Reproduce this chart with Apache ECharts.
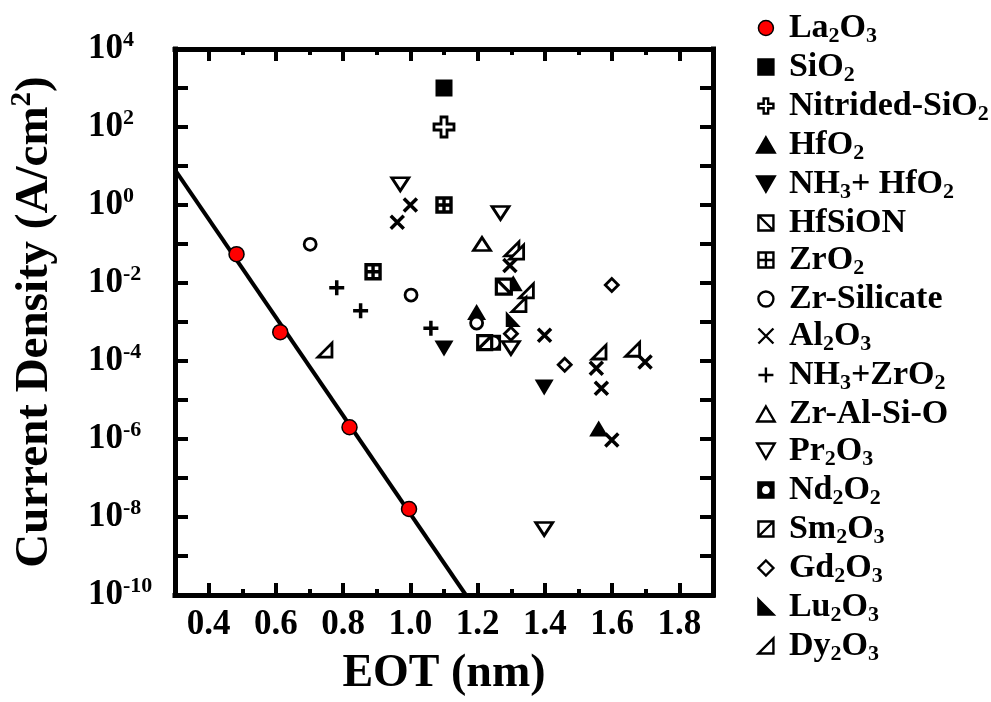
<!DOCTYPE html>
<html><head><meta charset="utf-8">
<script src="https://cdn.jsdelivr.net/npm/echarts@6/dist/echarts.min.js"></script>
<style>html,body{margin:0;padding:0;background:#fff}#c{width:991px;height:702px}</style>
</head><body><div id="c"></div>
<script>
// ---- tick labels ----
const X_TICK_LABELS = [0.4, 0.6, 0.8, 1.0, 1.2, 1.4, 1.6, 1.8];
const Y_TICK_EXPONENTS = [-10, -8, -6, -4, -2, 0, 2, 4];

// ---- data: [EOT (nm), current density (A/cm^2)] ----
const La2O3 = [[0.483, 0.055], [0.613, 5.5e-4], [0.819, 2.0e-6], [0.996, 1.6e-8]];
const SiO2 = [[1.10, 1000]];
const NitridedSiO2 = [[1.10, 100]];
const HfO2 = [[1.197, 0.0018], [1.306, 0.0098], [1.56, 1.85e-6]];
const NH3HfO2 = [[1.10, 2.1e-4], [1.398, 2.1e-5]];
const HfSiON = [[1.278, 0.0081]];
const ZrO2 = [[1.10, 1.0], [0.889, 0.0195]];
const ZrSilicate = [[0.702, 0.098], [1.002, 0.0049], [1.197, 9.4e-4]];
const Al2O3 = [[1.0, 1.0], [0.961, 0.36], [1.296, 0.028], [1.399, 4.6e-4], [1.553, 6.5e-5], [1.698, 9.4e-5], [1.568, 2.0e-5], [1.599, 9.4e-7]];
const NH3ZrO2 = [[0.781, 0.0076], [0.852, 0.00195], [1.061, 6.9e-4]];
const ZrAlSiO = [[1.213, 0.1]];
const Pr2O3 = [[0.970, 3.4], [1.268, 0.62], [1.299, 2.15e-4], [1.398, 4.9e-9]];
const Nd2O2 = [[1.246, 2.95e-4]];
const Sm2O3 = [[1.221, 2.95e-4]];
const Gd2O3 = [[1.599, 0.0089], [1.299, 5.0e-4], [1.459, 8.0e-5]];
const Lu2O3 = [[1.306, 0.0012]];
const Dy2O3 = [[0.746, 1.9e-4], [1.302, 0.075], [1.316, 0.062], [1.345, 0.0063], [1.323, 0.0028], [1.561, 1.7e-4], [1.661, 2.0e-4]];
const FIT_LINE = [[0.3, 7.9], [1.165, 1e-10]];

// ---- styling ----
const FONT = '"Liberation Serif","Times New Roman",serif';
const SYM = {
  circle: 'path://M50,0A50,50,0,1,1,50,100A50,50,0,1,1,50,0Z',
  square: 'path://M0,0H100V100H0Z',
  cross: 'path://M35,0H65V35H100V65H65V100H35V65H0V35H35Z',
  up: 'path://M50,0L100,86L0,86Z',
  down: 'path://M0,0L100,0L50,86Z',
  hfsion: 'path://M0,0H100V100H0Z M0,0L100,100',
  zro2: 'path://M0,0H100V100H0Z M50,0V100 M0,50H100',
  times: 'path://M0,0L100,100 M100,0L0,100',
  plus: 'path://M50,0V100 M0,50H100',
  nd: 'path://M0,0H100V100H0Z M50,16A34,34,0,0,0,50,84A34,34,0,0,0,50,16Z',
  sm: 'path://M0,0H100V100H0Z M0,100L100,0',
  diamond: 'path://M50,0L100,50L50,100L0,50Z',
  lu: 'path://M0,0L100,100L0,100Z',
  dy: 'path://M100,0L100,100L0,100Z'
};
const FILLED = {color: '#000', borderColor: '#000', borderWidth: 0, opacity: 1};
const OUTLINE = {color: '#fff', borderColor: '#000', borderWidth: 2.8, opacity: 1};
const STROKE = {color: 'rgba(0,0,0,0)', borderColor: '#000', borderWidth: 3.5, opacity: 1};

const SPECS = [
  ['La2O3', La2O3, SYM.circle, 15, {color: '#ff0000', borderColor: '#000', borderWidth: 1.5, opacity: 1}],
  ['SiO2', SiO2, SYM.square, 17, FILLED],
  ['Nitrided-SiO2', NitridedSiO2, SYM.cross, 20, OUTLINE],
  ['HfO2', HfO2, SYM.up, [19, 16], FILLED],
  ['NH3+ HfO2', NH3HfO2, SYM.down, [19, 16], FILLED],
  ['HfSiON', HfSiON, SYM.hfsion, 15, {color: '#fff', borderColor: '#000', borderWidth: 3.2, opacity: 1}],
  ['ZrO2', ZrO2, SYM.zro2, 14, {color: '#fff', borderColor: '#000', borderWidth: 3.4, opacity: 1}],
  ['Zr-Silicate', ZrSilicate, SYM.circle, 12, OUTLINE],
  ['Al2O3', Al2O3, SYM.times, 13, STROKE],
  ['NH3+ZrO2', NH3ZrO2, SYM.plus, 15, STROKE],
  ['Zr-Al-Si-O', ZrAlSiO, SYM.up, [17, 13], OUTLINE],
  ['Pr2O3', Pr2O3, SYM.down, [17, 13], OUTLINE],
  ['Nd2O2', Nd2O2, SYM.nd, 16, FILLED],
  ['Sm2O3', Sm2O3, SYM.sm, 14, {color: '#fff', borderColor: '#000', borderWidth: 3.2, opacity: 1}],
  ['Gd2O3', Gd2O3, SYM.diamond, 13, OUTLINE],
  ['Lu2O3', Lu2O3, SYM.lu, [15, 16], FILLED],
  ['Dy2O3', Dy2O3, SYM.dy, [14, 14], OUTLINE]
];

const toLog = pts => pts.map(p => [p[0], Math.log10(p[1])]);
const toRich = name => name.replace(/(\d+)|([^\d]+)/g, (m, d, t) => d ? '{s|' + d + '}' : '{m|' + t + '}');

const series = [{
  type: 'line', name: 'fit', data: toLog(FIT_LINE), symbol: 'none', z: 2,
  lineStyle: {color: '#000', width: 4}, silent: true, animation: false
}];
SPECS.forEach(s => {
  series.push({
    type: 'scatter', name: s[0], data: toLog(s[1]), symbol: s[2], symbolSize: s[3],
    itemStyle: s[4], z: s[0] === 'La2O3' ? 5 : 3, animation: false
  });
});

const axisLineStyle = {color: '#000', width: 5, cap: 'square'};
const tickStyle = {color: '#000', width: 4};
const xCommon = {type: 'value', min: 0.3, max: 1.9, interval: 0.1, splitLine: {show: false}};
const yCommon = {type: 'value', min: -10, max: 4, interval: 1, splitLine: {show: false}};

const option = {
  backgroundColor: '#fff',
  animation: false,
  grid: {left: 172, right: 278, top: 49, bottom: 107, containLabel: false},
  xAxis: [
    Object.assign({}, xCommon, {
      position: 'bottom',
      axisLine: {onZero: false, lineStyle: axisLineStyle},
      axisTick: {inside: true, length: 6, lineStyle: tickStyle},
      axisLabel: {customValues: X_TICK_LABELS, margin: 12, color: '#000', fontFamily: FONT, fontWeight: 'bold', fontSize: 35,
        formatter: v => v.toFixed(1)},
      name: 'EOT (nm)', nameLocation: 'middle', nameGap: 56,
      nameTextStyle: {color: '#000', fontFamily: FONT, fontWeight: 'bold', fontSize: 46}
    }),
    Object.assign({}, xCommon, {
      position: 'top',
      axisLine: {onZero: false, lineStyle: axisLineStyle},
      axisTick: {inside: true, length: 6, lineStyle: tickStyle},
      axisLabel: {show: false}
    }),
    Object.assign({}, xCommon, {
      position: 'bottom',
      axisLine: {show: false, onZero: false},
      axisTick: {inside: true, length: 12, customValues: X_TICK_LABELS, lineStyle: tickStyle},
      axisLabel: {show: false}
    }),
    Object.assign({}, xCommon, {
      position: 'top',
      axisLine: {show: false, onZero: false},
      axisTick: {inside: true, length: 12, customValues: X_TICK_LABELS, lineStyle: tickStyle},
      axisLabel: {show: false}
    })
  ],
  yAxis: [
    Object.assign({}, yCommon, {
      position: 'left',
      axisLine: {onZero: false, lineStyle: axisLineStyle},
      axisTick: {inside: true, length: 13, lineStyle: tickStyle},
      axisLabel: {customValues: Y_TICK_EXPONENTS, align: 'left', margin: 87, color: '#000',
        formatter: v => '{b|10}{s|' + Math.round(v) + '}',
        rich: {
          b: {fontFamily: FONT, fontWeight: 'bold', fontSize: 35, lineHeight: 40, color: '#000'},
          s: {fontFamily: FONT, fontWeight: 'bold', fontSize: 22, lineHeight: 22, verticalAlign: 'top', color: '#000'}
        }},
      name: '{t|Current Density (A/cm}{p|2}{t|)}', nameLocation: 'middle', nameGap: 113,
      nameTextStyle: {color: '#000', fontFamily: FONT, fontWeight: 'bold', fontSize: 47,
        rich: {
          t: {fontFamily: FONT, fontWeight: 'bold', fontSize: 47, lineHeight: 54, color: '#000'},
          p: {fontFamily: FONT, fontWeight: 'bold', fontSize: 29, lineHeight: 30, verticalAlign: 'top', color: '#000'}
        }}
    }),
    Object.assign({}, yCommon, {
      position: 'right',
      axisLine: {onZero: false, lineStyle: axisLineStyle},
      axisTick: {inside: true, length: 13, lineStyle: tickStyle},
      axisLabel: {show: false}
    })
  ],
  legend: {
    orient: 'vertical', left: 756, top: 11, padding: 0, itemGap: 3.0,
    itemWidth: 36, itemHeight: 15, symbolKeepAspect: true, selectedMode: false,
    data: SPECS.map(s => s[0] === 'La2O3' ? {name: s[0], itemStyle: {borderWidth: 1.5}} : s[0]),
    itemStyle: {borderWidth: 2.4, opacity: 1},
    formatter: toRich,
    textStyle: {
      color: '#000', fontFamily: FONT, fontWeight: 'bold', fontSize: 34,
      rich: {
        m: {fontFamily: FONT, fontWeight: 'bold', fontSize: 34, lineHeight: 38, color: '#000'},
        s: {fontFamily: FONT, fontWeight: 'bold', fontSize: 22, lineHeight: 18, verticalAlign: 'bottom', color: '#000'}
      }
    }
  },
  series: series
};

const chart = echarts.init(document.getElementById('c'), null, {renderer: 'canvas'});
chart.setOption(option);
</script>
</body></html>
